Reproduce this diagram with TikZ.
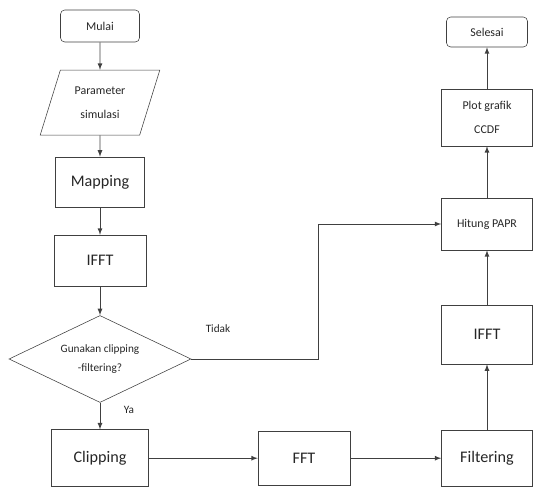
\documentclass[tikz,border=0pt]{standalone}
\usepackage{fontspec}
\setmainfont{Carlito}
\usetikzlibrary{arrows,shapes.geometric}

\tikzset{
  blok/.style={draw=black!75, text=black!85, font=\fontsize{11.5}{14}\selectfont, minimum width=2.3cm, minimum height=1.35cm, inner sep=2pt},
  kecil/.style={draw=black!75, text=black!85, font=\fontsize{8.5}{17}\selectfont, align=center, inner sep=2pt},
  teks/.style={text=black!85, font=\fontsize{8}{10}\selectfont, inner sep=0pt},
  garis/.style={draw=black!75, line width=0.6pt, -latex},
}

\begin{document}
\begin{tikzpicture}
\useasboundingbox (0,0) rectangle (13.35,12.175);
% kolom kiri
\node[kecil, rounded corners=3pt, minimum width=1.975cm, minimum height=0.8cm] (mulai) at (2.5,11.525) {Mulai};
\node[kecil, trapezium, trapezium left angle=69, trapezium right angle=111, trapezium stretches=true, minimum width=3cm, minimum height=1.625cm] (param) at (2.5,9.61) {Parameter\\simulasi};
\node[blok, minimum width=2.225cm, minimum height=1.25cm] (mapping) at (2.5,7.625) {Mapping};
\node[blok, minimum height=1.275cm] (ifft1) at (2.5,5.66) {IFFT};
\node[kecil, diamond, shape aspect=2, inner sep=0pt, font=\fontsize{8}{14}\selectfont, minimum width=4.55cm, minimum height=2.175cm] (tanya) at (2.5,3.2) {Gunakan clipping\\-filtering?};
% baris bawah
\node[blok, minimum width=2.425cm, minimum height=1.425cm] (clipping) at (2.5,0.72) {Clipping};
\node[blok] (fft) at (7.6,0.72) {FFT};
\node[blok, minimum width=2.275cm, minimum height=1.4cm] (filtering) at (12.175,0.72) {Filtering};
% kolom kanan
\node[blok, minimum width=2.275cm, minimum height=1.475cm] (ifft2) at (12.175,3.81) {IFFT};
\node[kecil, minimum width=2.275cm, minimum height=1.3cm] (papr) at (12.175,6.575) {Hitung PAPR};
\node[kecil, minimum width=2.275cm, minimum height=1.425cm, font=\fontsize{8.5}{17}\selectfont] (plot) at (12.175,9.24) {Plot grafik\\CCDF};
\node[kecil, rounded corners=3pt, minimum width=2.025cm, minimum height=0.75cm] (selesai) at (12.175,11.375) {Selesai};
% label
\node[teks] (tidak) at (5.45,3.95) {Tidak};
\node[teks] (ya) at (3.225,1.925) {Ya};
\coordinate (belok) at (7.95,6.575);
% panah
\draw[garis] (mulai) -- (param);
\draw[garis] (param) -- (mapping);
\draw[garis] (mapping) -- (ifft1);
\draw[garis] (ifft1) -- (tanya);
\draw[garis] (tanya) -- (clipping);
\draw[garis] (clipping) -- (fft);
\draw[garis] (fft) -- (filtering);
\draw[garis] (filtering) -- (ifft2);
\draw[garis] (ifft2) -- (papr);
\draw[garis] (papr) -- (plot);
\draw[garis] (plot) -- (selesai);
\draw[garis] (tanya.east) -| (belok) -- (papr.west);
\end{tikzpicture}
\end{document}
